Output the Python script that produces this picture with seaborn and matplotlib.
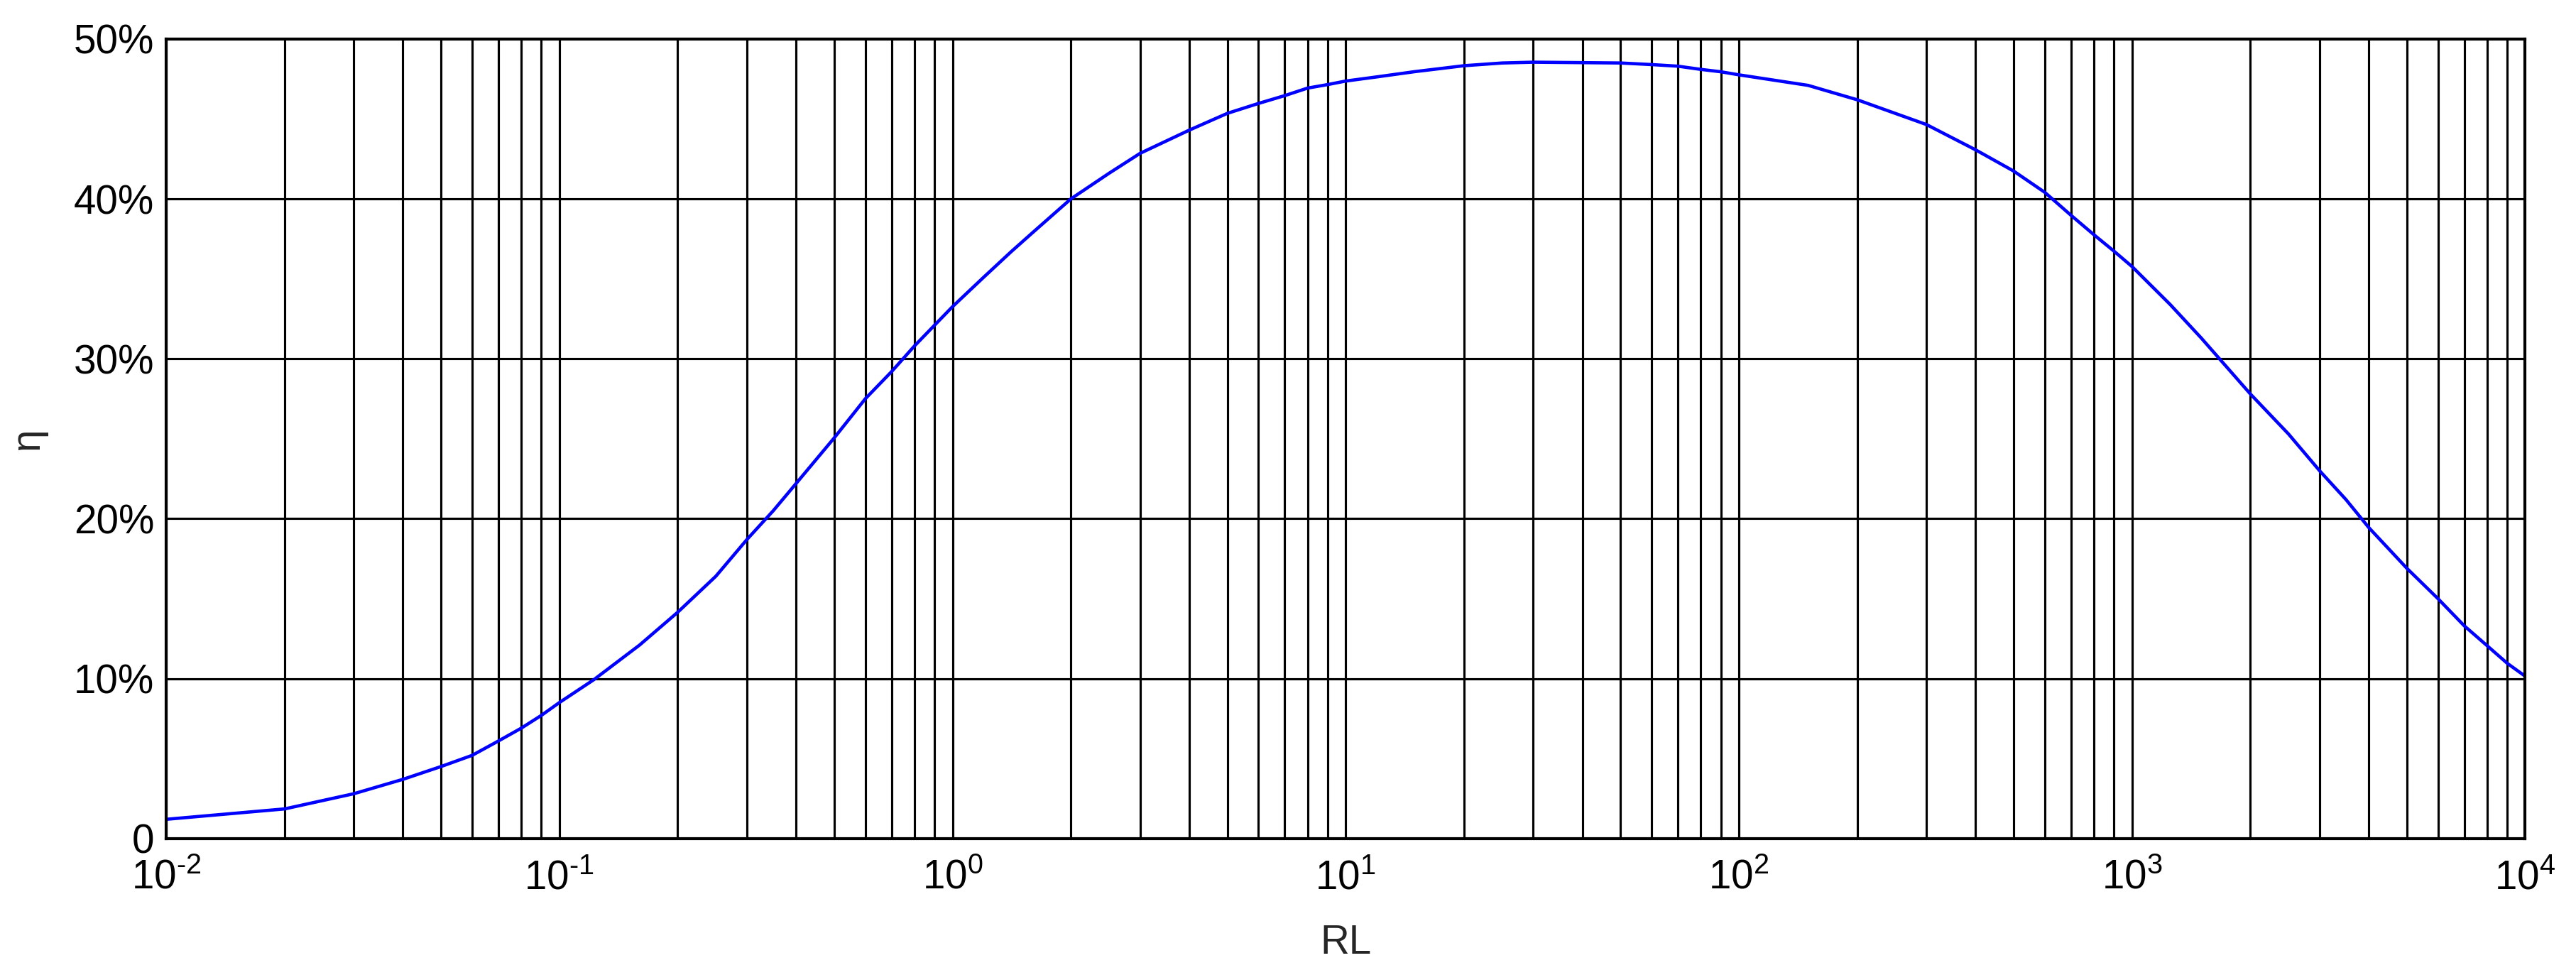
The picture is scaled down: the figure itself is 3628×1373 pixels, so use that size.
import numpy as np
import pandas as pd
import matplotlib
matplotlib.use('Agg')
import matplotlib.pyplot as plt
import seaborn as sns
from matplotlib.ticker import FixedLocator, FuncFormatter, NullFormatter

# load resistance and efficiency (%)
rl = [0.01, 0.02, 0.03, 0.04, 0.05, 0.06, 0.07, 0.08, 0.09,
      0.1, 0.1225, 0.16, 0.2, 0.25, 0.3, 0.35, 0.4, 0.5, 0.6, 0.7, 0.8, 0.9,
      1, 1.2, 1.41, 1.6, 2, 2.5, 3, 4, 5, 6, 7, 8, 9,
      10, 12, 15, 20, 25, 30, 50, 60, 70, 80, 90,
      100, 150, 200, 300, 400, 500, 600, 700, 800, 900,
      1000, 1250, 1500, 2000, 2500, 3000, 3500, 4000, 5000, 6000, 7000, 8000, 9000, 10000]
eta = [1.2, 1.85, 2.8, 3.7, 4.5, 5.2, 6.1, 6.9, 7.7,
       8.5, 9.94, 12.1, 14.15, 16.4, 18.7, 20.5, 22.2, 25.05, 27.5, 29.2, 30.8, 32.1,
       33.26, 35.1, 36.7, 37.9, 40.0, 41.6, 42.85, 44.3, 45.35, 45.97, 46.46, 46.93, 47.15,
       47.37, 47.63, 47.96, 48.33, 48.5, 48.55, 48.5, 48.4, 48.3, 48.1, 47.95,
       47.76, 47.1, 46.2, 44.65, 43.07, 41.74, 40.41, 38.97, 37.76, 36.73,
       35.77, 33.4, 31.3, 27.8, 25.3, 23.0, 21.2, 19.45, 16.9, 15.0, 13.3, 12.06, 10.96, 10.15]

y_ticks = [0, 0.1, 0.2, 0.3, 0.4, 0.5]
y_labels = ['0', '10%', '20%', '30%', '40%', '50%']
x_decades = [-2, -1, 0, 1, 2, 3, 4]

df = pd.DataFrame({'RL': rl, 'eta': np.array(eta) / 100})

sns.set_style('white')
plt.rcParams['font.family'] = ['Liberation Sans', 'DejaVu Sans']
plt.rcParams['mathtext.fontset'] = 'custom'
plt.rcParams['mathtext.rm'] = 'Liberation Sans'
plt.rcParams['mathtext.it'] = 'Liberation Sans'

fig = plt.figure(figsize=(3629 / 300, 1373 / 300), dpi=300)
ax = fig.add_axes([0.0645, 0.14, 0.9155, 0.82])

sns.lineplot(data=df, x='RL', y='eta', color='#0000ff', linewidth=1.1, ax=ax)

ax.set_xscale('log')
ax.set_xlim(1e-2, 1e4)
ax.set_ylim(0, 0.5)


def dec_label(v, pos):
    d = int(round(np.log10(v)))
    if d < 0:
        return r'$\mathregular{10^{\text{-}%d}}$' % (-d)
    return r'$\mathregular{10^{%d}}$' % d


ax.xaxis.set_major_locator(FixedLocator([10.0 ** d for d in x_decades]))
minors = [m * 10.0 ** d for d in x_decades[:-1] for m in range(2, 10)]
ax.xaxis.set_minor_locator(FixedLocator(minors))
ax.xaxis.set_major_formatter(FuncFormatter(dec_label))
ax.xaxis.set_minor_formatter(NullFormatter())
ax.set_yticks(y_ticks)
ax.set_yticklabels(y_labels)

ax.grid(True, which='major', axis='both', color='black', linewidth=0.75, linestyle='-')
ax.grid(True, which='minor', axis='x', color='black', linewidth=0.75, linestyle='-')
ax.tick_params(axis='x', which='both', length=0, labelsize=13.6, pad=7, colors='black')
ax.tick_params(axis='y', which='both', length=0, labelsize=13.6, pad=4, colors='black')

for s in ax.spines.values():
    s.set_visible(True)
    s.set_color('black')
    s.set_linewidth(1.0)

ax.set_xlabel('RL', fontsize=13.6, labelpad=9)
ax.set_ylabel('η', fontsize=13.6, labelpad=9)

fig.savefig('out.png', dpi=300, facecolor='white')
